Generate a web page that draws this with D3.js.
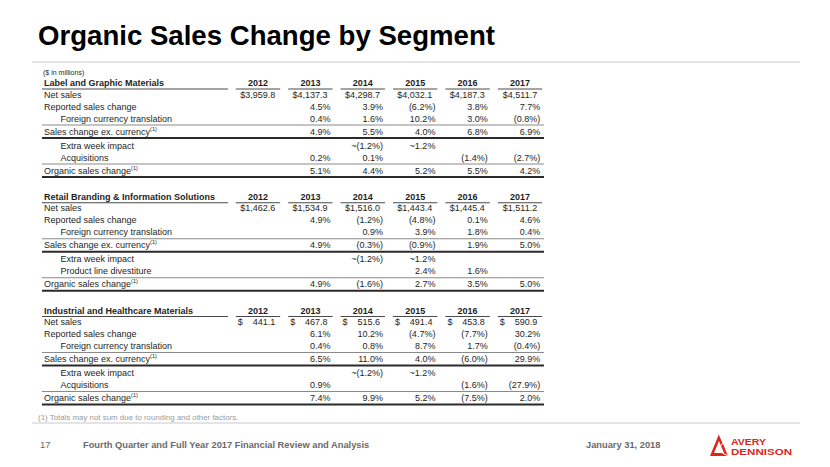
<!DOCTYPE html>
<html>
<head>
<meta charset="utf-8">
<script src="https://cdn.jsdelivr.net/npm/d3@7"></script>
<style>
  html, body { margin: 0; padding: 0; background: #fff; }
  svg { display: block; font-family: "Liberation Sans", Arial, sans-serif; }
</style>
</head>
<body>
<svg id="chart" width="830" height="467"></svg>
<script>
// ---------------- DATA ----------------
const years = ["2012", "2013", "2014", "2015", "2016", "2017"];
const segments = [
  "Label and Graphic Materials",
  "Retail Branding & Information Solutions",
  "Industrial and Healthcare Materials"
];

const lgmRowLabels = ["Net sales", "Reported sales change", "Foreign currency translation",
  "Sales change ex. currency", "Extra week impact", "Acquisitions", "Organic sales change"];
const rbisRowLabels = ["Net sales", "Reported sales change", "Foreign currency translation",
  "Sales change ex. currency", "Extra week impact", "Product line divestiture", "Organic sales change"];
const ihmRowLabels = lgmRowLabels;

// Label and Graphic Materials
const lgmNetSales   = [3959.8, 4137.3, 4298.7, 4032.1, 4187.3, 4511.7];
const lgmReported   = [null, 4.5, 3.9, -6.2, 3.8, 7.7];
const lgmCurrency   = [null, 0.4, 1.6, 10.2, 3.0, -0.8];
const lgmExCurrency = [null, 4.9, 5.5, 4.0, 6.8, 6.9];
const lgmExtraWeek  = [null, null, -1.2, 1.2, null, null];
const lgmAcq        = [null, 0.2, 0.1, null, -1.4, -2.7];
const lgmOrganic    = [null, 5.1, 4.4, 5.2, 5.5, 4.2];

// Retail Branding & Information Solutions
const rbisNetSales   = [1462.6, 1534.9, 1516.0, 1443.4, 1445.4, 1511.2];
const rbisReported   = [null, 4.9, -1.2, -4.8, 0.1, 4.6];
const rbisCurrency   = [null, null, 0.9, 3.9, 1.8, 0.4];
const rbisExCurrency = [null, 4.9, -0.3, -0.9, 1.9, 5.0];
const rbisExtraWeek  = [null, null, -1.2, 1.2, null, null];
const rbisDivest     = [null, null, null, 2.4, 1.6, null];
const rbisOrganic    = [null, 4.9, -1.6, 2.7, 3.5, 5.0];

// Industrial and Healthcare Materials
const ihmNetSales   = [441.1, 467.8, 515.6, 491.4, 453.8, 590.9];
const ihmReported   = [null, 6.1, 10.2, -4.7, -7.7, 30.2];
const ihmCurrency   = [null, 0.4, 0.8, 8.7, 1.7, -0.4];
const ihmExCurrency = [null, 6.5, 11.0, 4.0, -6.0, 29.9];
const ihmExtraWeek  = [null, null, -1.2, 1.2, null, null];
const ihmAcq        = [null, 0.9, null, null, -1.6, -27.9];
const ihmOrganic    = [null, 7.4, 9.9, 5.2, -7.5, 2.0];

const tables = [
  { name: segments[0], labels: lgmRowLabels, dollarSplit: false,
    rows: [lgmNetSales, lgmReported, lgmCurrency, lgmExCurrency, lgmExtraWeek, lgmAcq, lgmOrganic] },
  { name: segments[1], labels: rbisRowLabels, dollarSplit: false,
    rows: [rbisNetSales, rbisReported, rbisCurrency, rbisExCurrency, rbisExtraWeek, rbisDivest, rbisOrganic] },
  { name: segments[2], labels: ihmRowLabels, dollarSplit: true,
    rows: [ihmNetSales, ihmReported, ihmCurrency, ihmExCurrency, ihmExtraWeek, ihmAcq, ihmOrganic] }
];

// ---------------- LAYOUT ----------------
const svg = d3.select("#chart");
svg.append("rect").attr("width", 830).attr("height", 467).attr("fill", "#fff");

const TEXT = "#1e1e1e";
const FS = 9;
const x = d3.scaleBand().domain(years).range([231.8, 546.2]).paddingInner(0);
const bw = x.bandwidth();
const labelX = 44, indentX = 60.5, ruleX0 = 42, ruleX1 = 544;

const rowOffsets = [11.5, 23.5, 35.5, 48.5, 62.5, 74.5, 87.5]; // relative to header centre
const indented = [false, false, true, false, true, true, false];
const superscript = [false, false, false, true, false, false, true];
const thinRules = [42, 81];
const thickRules = [55, 94];
const tableTop = d3.scaleLinear().domain([0, 2]).range([83, 310.5]);

const fmtDollar = d3.format(",.1f");
const fmtPct = v => v < 0 ? `(${Math.abs(v).toFixed(1)}%)` : `${v.toFixed(1)}%`;

// Title
svg.append("text").attr("x", 38).attr("y", 45)
  .attr("font-size", 27.6).attr("font-weight", "bold").attr("fill", "#000")
  .text("Organic Sales Change by Segment");

// separator rules
[62, 423].forEach(yy => svg.append("line")
  .attr("x1", 32).attr("x2", 800).attr("y1", yy).attr("y2", yy)
  .attr("stroke", "#e4e4e4").attr("stroke-width", 2));

svg.append("text").attr("x", 43).attr("y", 74.5).attr("font-size", 7)
  .attr("fill", TEXT).text("($ in millions)");

const base = c => c + 3.2;

tables.forEach((t, ti) => {
  const T = tableTop(ti);
  const g = svg.append("g");

  // header
  g.append("text").attr("x", labelX).attr("y", base(T)).attr("font-size", FS)
    .attr("font-weight", "bold").attr("fill", TEXT).text(t.name);
  g.selectAll(".yr").data(years).join("text")
    .attr("x", d => x(d) + bw / 2).attr("y", base(T))
    .attr("text-anchor", "middle").attr("font-size", FS).attr("font-weight", "bold")
    .attr("fill", TEXT).text(d => d);

  // header underlines
  g.append("line").attr("x1", ruleX0).attr("x2", 228).attr("y1", T + 6).attr("y2", T + 6)
    .attr("stroke", "#4a4a4a").attr("stroke-width", 1);
  g.selectAll(".yl").data(years).join("line")
    .attr("x1", d => x(d) + 4).attr("x2", d => x(d) + bw - 4)
    .attr("y1", T + 6).attr("y2", T + 6)
    .attr("stroke", "#4a4a4a").attr("stroke-width", 1);

  // rules
  thinRules.forEach(o => g.append("line").attr("x1", ruleX0).attr("x2", ruleX1)
    .attr("y1", T + o).attr("y2", T + o).attr("stroke", "#8a8a8a").attr("stroke-width", 1));
  thickRules.forEach(o => g.append("line").attr("x1", ruleX0).attr("x2", ruleX1)
    .attr("y1", T + o).attr("y2", T + o).attr("stroke", "#2a2a2a").attr("stroke-width", 1.8));

  // rows
  t.labels.forEach((lab, ri) => {
    const cy = base(T + rowOffsets[ri]);
    const lt = g.append("text").attr("x", indented[ri] ? indentX : labelX).attr("y", cy)
      .attr("font-size", FS).attr("fill", TEXT).text(lab);
    if (superscript[ri]) {
      lt.append("tspan").attr("font-size", 5.5).attr("dy", -4).text("(1)");
    }
    const vals = t.rows[ri];
    years.forEach((yr, ci) => {
      const v = vals[ci];
      if (v === null || v === undefined) return;
      if (ri === 0) {
        if (t.dollarSplit) {
          g.append("text").attr("x", x(yr) + 6).attr("y", cy).attr("font-size", FS)
            .attr("fill", TEXT).text("$");
          g.append("text").attr("x", x(yr) + bw - 9).attr("y", cy).attr("text-anchor", "end")
            .attr("font-size", FS).attr("fill", TEXT).text(fmtDollar(v));
        } else {
          g.append("text").attr("x", x(yr) + bw - 9).attr("y", cy).attr("text-anchor", "end")
            .attr("font-size", FS).attr("fill", TEXT).text("$" + fmtDollar(v));
        }
      } else {
        const s = (lab === "Extra week impact" ? "~" : "") + fmtPct(v);
        g.append("text").attr("x", x(yr) + bw - 6).attr("y", cy).attr("text-anchor", "end")
          .attr("font-size", FS).attr("fill", TEXT).text(s);
      }
    });
  });
});

// footnote
svg.append("text").attr("x", 38).attr("y", 419.5).attr("font-size", 7.9)
  .attr("fill", "#9a9a9a").text("(1) Totals may not sum due to rounding and other factors.");

// footer
const FOOT = "#6a6a6a";
svg.append("text").attr("x", 40).attr("y", 448).attr("font-size", 9.5)
  .attr("fill", FOOT).text("17");
svg.append("text").attr("x", 83).attr("y", 448).attr("font-size", 9.3).attr("font-weight", "bold")
  .attr("fill", FOOT).text("Fourth Quarter and Full Year 2017 Financial Review and Analysis");
svg.append("text").attr("x", 586).attr("y", 448).attr("font-size", 9.3).attr("font-weight", "bold")
  .attr("fill", FOOT).text("January 31, 2018");

// logo
const RED = "#e1251b";
const logo = svg.append("g").attr("transform", "translate(709,433)");
logo.append("path")
  .attr("d", "M10,1 L1,23 L19,23 Z M10,8 L5,20 L15,20 Z")
  .attr("fill", RED).attr("fill-rule", "evenodd");
logo.append("path").attr("d", "M10,1 L14,10 L8,17 L19,23")
  .attr("fill", "none").attr("stroke", "#fff").attr("stroke-width", 1);
logo.append("text").attr("x", 22).attr("y", 12).attr("font-size", 9.5).attr("font-weight", "bold")
  .attr("fill", RED).attr("textLength", 35).attr("lengthAdjust", "spacingAndGlyphs").text("AVERY");
logo.append("text").attr("x", 22).attr("y", 21.5).attr("font-size", 9.5).attr("font-weight", "bold")
  .attr("fill", RED).attr("textLength", 61).attr("lengthAdjust", "spacingAndGlyphs").text("DENNISON");
</script>
</body>
</html>
